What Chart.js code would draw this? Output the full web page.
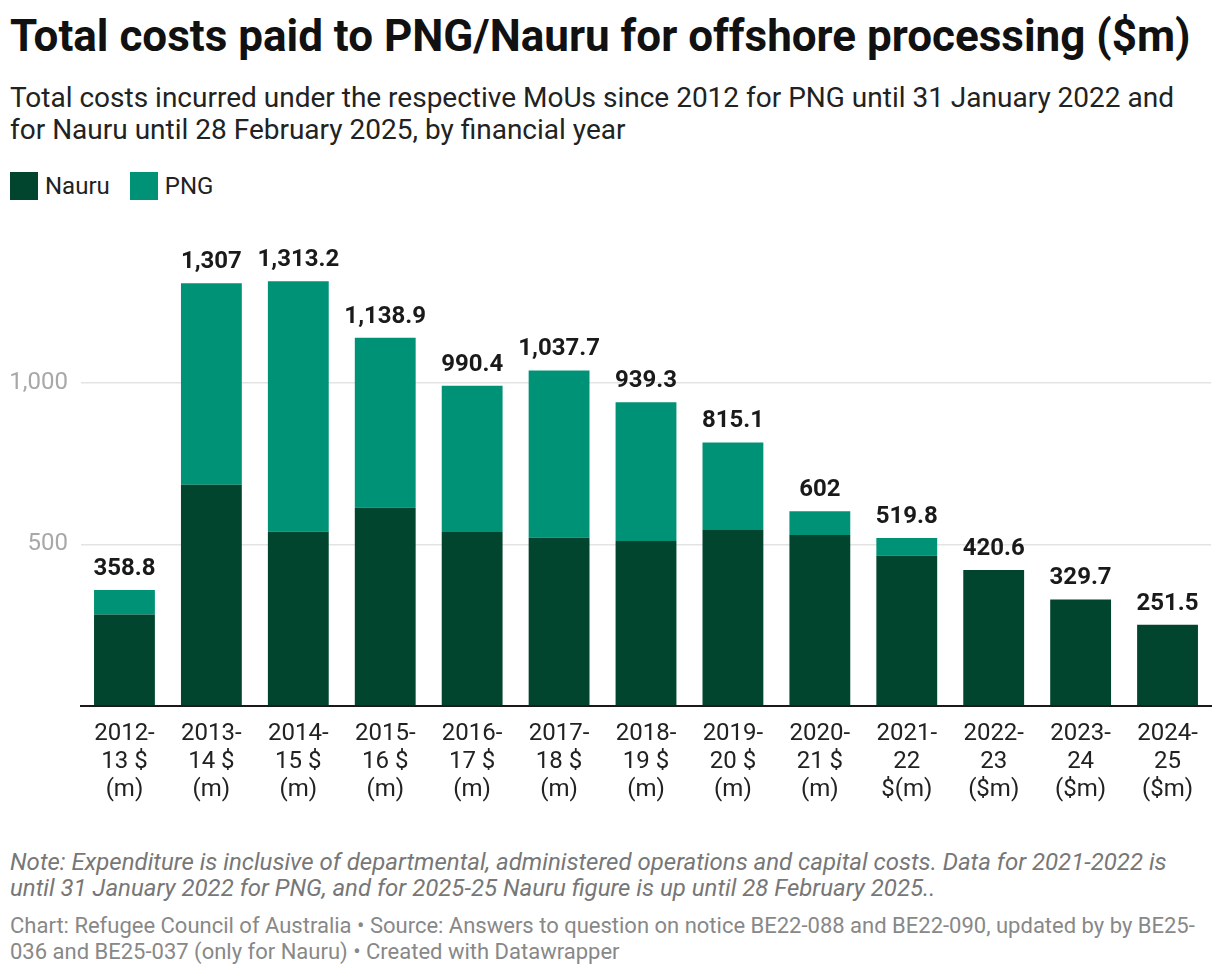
<!DOCTYPE html>
<html>
<head>
<meta charset="utf-8">
<script src="https://cdn.jsdelivr.net/npm/chart.js@4"></script>
<style>
  html, body { margin: 0; padding: 0; background: #fff; }
  body { width: 1220px; height: 976px; position: relative; font-family: Roboto, "Noto Sans", sans-serif; overflow: hidden; }
  .title { position: absolute; left: 10px; top: 8px; font-size: 44px; line-height: 56px; font-weight: 700; color: #111; white-space: nowrap; }
  .sub { position: absolute; left: 10px; top: 82px; font-size: 28px; line-height: 32px; color: #222; white-space: nowrap; }
  .legend { position: absolute; left: 10px; top: 172px; height: 28px; display: flex; align-items: center; font-size: 24px; color: #222; }
  .legend .sw { width: 28px; height: 28px; margin-right: 7px; }
  .legend .it { display: flex; align-items: center; margin-right: 20px; }
  #wrap { position: absolute; left: 0; top: 200px; width: 1220px; height: 640px; }
  .note { position: absolute; left: 10px; top: 849px; font-size: 24px; line-height: 26px; font-style: italic; color: #777; white-space: nowrap; }
  .credit { position: absolute; left: 10px; top: 913px; font-size: 22px; line-height: 26px; color: #888; white-space: nowrap; }
</style>
</head>
<body>
<div class="title">Total costs paid to PNG/Nauru for offshore processing ($m)</div>
<div class="sub">Total costs incurred under the respective MoUs since 2012 for PNG until 31 January 2022 and<br>for Nauru until 28 February 2025, by financial year</div>
<div class="legend">
  <div class="it"><div class="sw" style="background:#02452f"></div>Nauru</div>
  <div class="it"><div class="sw" style="background:#009276"></div>PNG</div>
</div>
<div id="wrap"><canvas id="c"></canvas></div>
<div class="note">Note: Expenditure is inclusive of departmental, administered operations and capital costs. Data for 2021-2022 is<br>until 31 January 2022 for PNG, and for 2025-25 Nauru figure is up until 28 February 2025..</div>
<div class="credit">Chart: Refugee Council of Australia • Source: Answers to question on notice BE22-088 and BE22-090, updated by by BE25-<br>036 and BE25-037 (only for Nauru) • Created with Datawrapper</div>
<script>
const categories = [
  ["2012-", "13 $", "(m)"],
  ["2013-", "14 $", "(m)"],
  ["2014-", "15 $", "(m)"],
  ["2015-", "16 $", "(m)"],
  ["2016-", "17 $", "(m)"],
  ["2017-", "18 $", "(m)"],
  ["2018-", "19 $", "(m)"],
  ["2019-", "20 $", "(m)"],
  ["2020-", "21 $", "(m)"],
  ["2021-", "22", "$(m)"],
  ["2022-", "23", "($m)"],
  ["2023-", "24", "($m)"],
  ["2024-", "25", "($m)"]
];
const nauru = [283, 684, 539, 613, 538, 520, 510, 544, 529, 465, 420.6, 329.7, 251.5];
const png   = [75.8, 623, 774.2, 525.9, 452.4, 517.7, 429.3, 271.1, 73, 54.8, 0, 0, 0];
const yTicks = [500, 1000];
const yMax = 1480;

const totalLabels = {
  id: 'totalLabels',
  afterDatasetsDraw(chart) {
    const ctx = chart.ctx;
    const y = chart.scales.y;
    const x = chart.scales.x;
    ctx.save();
    ctx.font = 'bold 24px Roboto, sans-serif';
    ctx.fillStyle = '#1a1a1a';
    ctx.textAlign = 'center';
    ctx.textBaseline = 'alphabetic';
    categories.forEach((c, i) => {
      const total = Math.round((nauru[i] + png[i]) * 10) / 10;
      const txt = total.toLocaleString('en-US', { maximumFractionDigits: 1 });
      ctx.fillText(txt, x.getPixelForValue(i), y.getPixelForValue(total) - 15);
    });
    ctx.restore();
  }
};

new Chart(document.getElementById('c'), {
  type: 'bar',
  data: {
    labels: categories,
    datasets: [
      { label: 'Nauru', data: nauru, backgroundColor: '#02452f', borderWidth: 0 },
      { label: 'PNG', data: png, backgroundColor: '#009276', borderWidth: 0 }
    ]
  },
  options: {
    responsive: true,
    maintainAspectRatio: false,
    animation: false,
    layout: { padding: { top: 8, right: 9, left: 0, bottom: 0 } },
    plugins: { legend: { display: false }, tooltip: { enabled: false } },
    datasets: { bar: { categoryPercentage: 1.0, barPercentage: 0.70 } },
    scales: {
      x: {
        stacked: true,
        grid: { display: false, drawTicks: false },
        border: { display: true, color: '#1a1a1a', width: 2 },
        ticks: { color: '#222', font: { family: 'Roboto', size: 24, lineHeight: 1.167 }, padding: 14, maxRotation: 0, autoSkip: false },
        afterFit(s) { s.height = 134; }
      },
      y: {
        stacked: true,
        min: 0, max: yMax,
        afterBuildTicks(s) { s.ticks = [0].concat(yTicks).concat([yMax]).map(v => ({ value: v })); },
        grid: {
          drawTicks: false,
          color: (c) => yTicks.includes(c.tick && c.tick.value) ? '#e3e3e3' : 'rgba(0,0,0,0)',
          lineWidth: 1.5
        },
        border: { display: false },
        ticks: {
          color: '#a8a8a8',
          font: { family: 'Roboto', size: 24 },
          padding: 13,
          callback: (v) => yTicks.includes(v) ? v.toLocaleString('en-US') : ''
        },
        afterFit(s) { s.width = 81; }
      }
    }
  },
  plugins: [totalLabels]
});
</script>
</body>
</html>
